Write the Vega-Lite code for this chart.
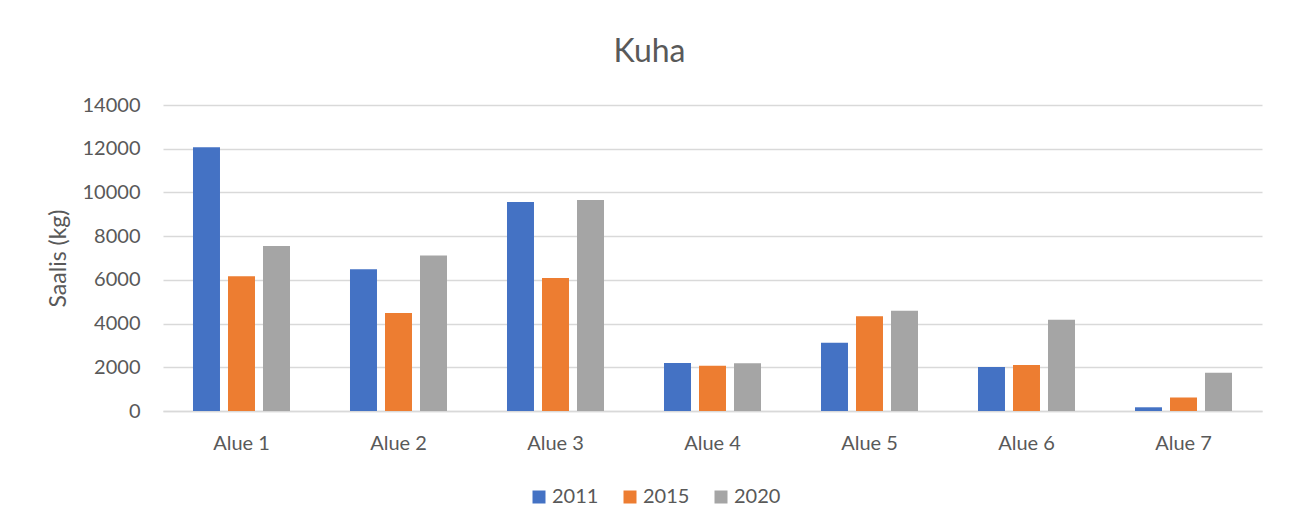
{
  "$schema": "https://vega.github.io/schema/vega-lite/v6.json",
  "width": 1099,
  "height": 306,
  "autosize": {"type": "none"},
  "padding": {"left": 163, "top": 105, "right": 30, "bottom": 120},
  "background": "white",
  "title": {
    "text": "Kuha",
    "anchor": "middle",
    "frame": "group",
    "dx": -63,
    "dy": 42,
    "offset": 43,
    "baseline": "alphabetic",
    "font": "Lato",
    "fontSize": 32,
    "fontWeight": "normal",
    "color": "#595959"
  },
  "data": {
    "values": [
      {"alue": "Alue 1", "vuosi": "2011", "saalis": 12070},
      {"alue": "Alue 1", "vuosi": "2015", "saalis": 6160},
      {"alue": "Alue 1", "vuosi": "2020", "saalis": 7550},
      {"alue": "Alue 2", "vuosi": "2011", "saalis": 6490},
      {"alue": "Alue 2", "vuosi": "2015", "saalis": 4480},
      {"alue": "Alue 2", "vuosi": "2020", "saalis": 7110},
      {"alue": "Alue 3", "vuosi": "2011", "saalis": 9560},
      {"alue": "Alue 3", "vuosi": "2015", "saalis": 6080},
      {"alue": "Alue 3", "vuosi": "2020", "saalis": 9650},
      {"alue": "Alue 4", "vuosi": "2011", "saalis": 2200},
      {"alue": "Alue 4", "vuosi": "2015", "saalis": 2070},
      {"alue": "Alue 4", "vuosi": "2020", "saalis": 2190},
      {"alue": "Alue 5", "vuosi": "2011", "saalis": 3120},
      {"alue": "Alue 5", "vuosi": "2015", "saalis": 4330},
      {"alue": "Alue 5", "vuosi": "2020", "saalis": 4590},
      {"alue": "Alue 6", "vuosi": "2011", "saalis": 2010},
      {"alue": "Alue 6", "vuosi": "2015", "saalis": 2110},
      {"alue": "Alue 6", "vuosi": "2020", "saalis": 4170},
      {"alue": "Alue 7", "vuosi": "2011", "saalis": 170},
      {"alue": "Alue 7", "vuosi": "2015", "saalis": 620},
      {"alue": "Alue 7", "vuosi": "2020", "saalis": 1750}
    ]
  },
  "mark": {"type": "bar"},
  "encoding": {
    "x": {
      "field": "alue",
      "type": "nominal",
      "scale": {"paddingInner": 0, "paddingOuter": 0},
      "axis": {
        "title": null,
        "labelAngle": 0,
        "ticks": false,
        "labelPadding": 22,
        "domainColor": "#d9d9d9",
        "domainWidth": 1.3,
        "labelFont": "Lato",
        "labelFontSize": 20,
        "labelColor": "#595959"
      }
    },
    "xOffset": {
      "field": "vuosi",
      "type": "nominal",
      "scale": {"paddingInner": 0.229, "paddingOuter": 0.857}
    },
    "y": {
      "field": "saalis",
      "type": "quantitative",
      "scale": {"domain": [0, 14000], "nice": false},
      "axis": {
        "values": [0, 2000, 4000, 6000, 8000, 10000, 12000, 14000],
        "format": "d",
        "title": "Saalis (kg)",
        "titleFont": "Lato",
        "titleFontSize": 23,
        "titleFontWeight": "normal",
        "titleColor": "#595959",
        "titleAngle": 270,
        "titleX": -105,
        "titleY": 153,
        "titleAlign": "center",
        "titleBaseline": "middle",
        "domain": false,
        "ticks": false,
        "labelPadding": 23,
        "labelFont": "Lato",
        "labelFontSize": 20,
        "labelColor": "#595959",
        "gridColor": "#d9d9d9",
        "gridWidth": 1.3
      }
    },
    "color": {
      "field": "vuosi",
      "type": "nominal",
      "scale": {"domain": ["2011", "2015", "2020"], "range": ["#4472C4", "#ED7D31", "#A5A5A5"]},
      "legend": {
        "title": null,
        "orient": "none",
        "direction": "horizontal",
        "legendX": 366,
        "legendY": 382,
        "padding": 0,
        "symbolType": "square",
        "symbolSize": 169,
        "symbolStrokeWidth": 0,
        "labelOffset": 3,
        "columnPadding": 21,
        "labelFont": "Lato",
        "labelFontSize": 20,
        "labelColor": "#595959"
      }
    }
  },
  "config": {"view": {"stroke": null}}
}
